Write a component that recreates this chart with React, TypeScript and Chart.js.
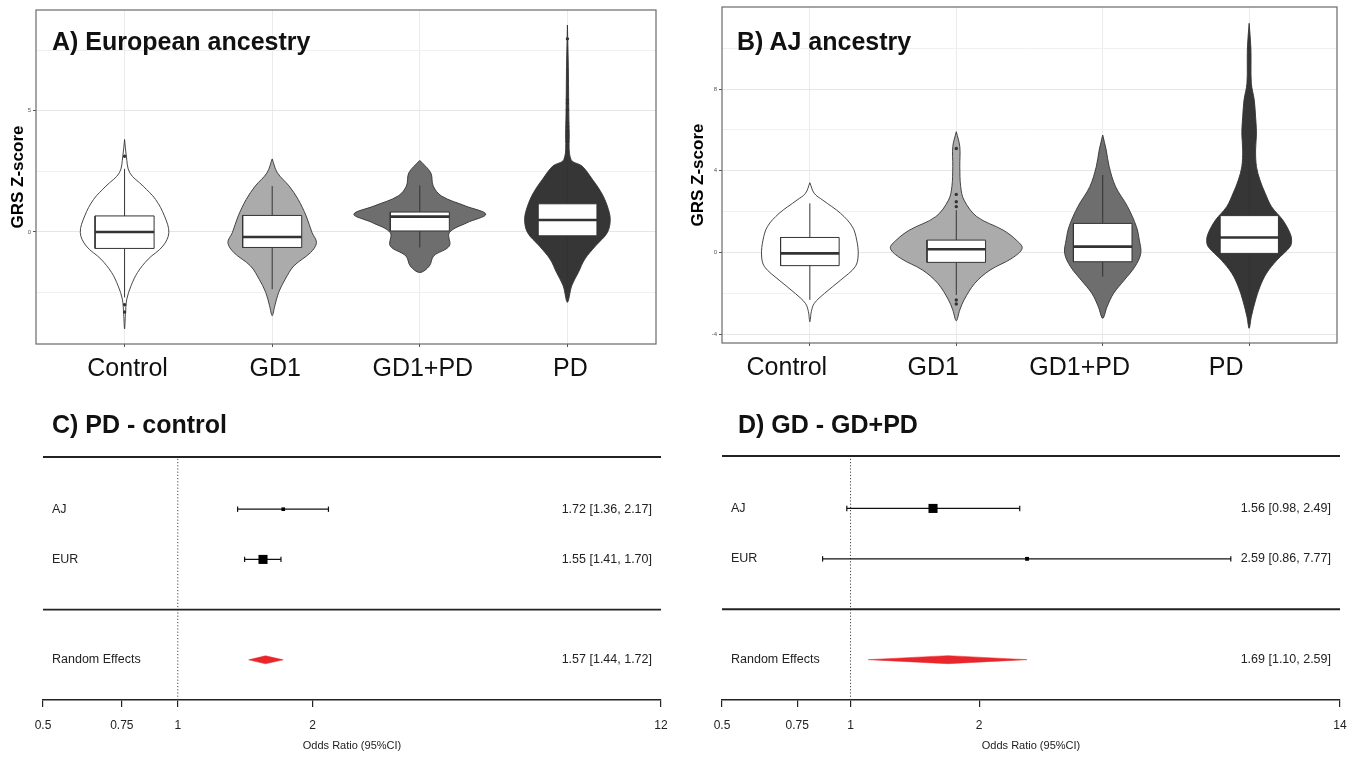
import React, { useEffect, useRef } from 'react';
import { Chart, registerables } from 'chart.js';

Chart.register(...registerables);

const FONT = '"Liberation Sans", Arial, Helvetica, sans-serif';
Chart.defaults.font.family = FONT;

// ---------------- Violin panels (A, B) ----------------
const CATEGORIES = ['Control', 'GD1', 'GD1+PD', 'PD'];
const GROUP_FILLS = ['#ffffff', '#ababab', '#6e6e6e', '#363636'];
const OUTLINE = '#333333';

// A) European ancestry – violin outline: GRS value and half-width (category units)
const EUR_CONTROL_Y = [3.81, 3.12, 2.44, 1.89, 1.34, 0.66, -0.03, -0.58, -1.12, -1.67, -2.22, -2.77, -3.4, -4.0];
const EUR_CONTROL_W = [0, 0.012, 0.035, 0.126, 0.21, 0.27, 0.3, 0.26, 0.16, 0.088, 0.044, 0.015, 0.006, 0];
const EUR_GD1_Y = [3.01, 2.44, 1.89, 1.34, 0.66, -0.03, -0.44, -0.85, -1.4, -1.95, -2.49, -3.04, -3.45];
const EUR_GD1_W = [0, 0.035, 0.115, 0.176, 0.23, 0.27, 0.3, 0.26, 0.147, 0.088, 0.044, 0.018, 0];
const EUR_GDPD_Y = [2.95, 2.44, 1.89, 1.48, 1.07, 0.73, 0.38, -0.03, -0.58, -0.99, -1.4, -1.67];
const EUR_GDPD_W = [0, 0.074, 0.091, 0.147, 0.31, 0.447, 0.32, 0.2, 0.2, 0.094, 0.065, 0];
const EUR_PD_Y = [8.53, 6.82, 4.08, 2.99, 2.71, 2.16, 1.62, 1.07, 0.52, -0.03, -0.58, -1.12, -1.67, -2.22, -2.9];
const EUR_PD_W = [0, 0.006, 0.012, 0.024, 0.1, 0.17, 0.23, 0.27, 0.29, 0.27, 0.19, 0.118, 0.074, 0.029, 0];

const EUR_Q1 = [-0.68, -0.64, 0.04, -0.16];
const EUR_MEDIAN = [0.0, -0.21, 0.63, 0.49];
const EUR_Q3 = [0.66, 0.68, 0.82, 1.16];
const EUR_WHISKER_LO = [-2.7, -2.36, -0.64, -2.36];
const EUR_WHISKER_HI = [2.6, 1.89, 1.92, 3.1];
const EUR_OUTLIERS = [[3.12, -3.0, -3.3], [], [], [7.96, 5.45, 5.32, 5.04, 4.49, 4.36, 4.15, 3.95, 3.74, 3.53, 3.33]];
const EUR_Y_TICKS = [-2.5, 0, 2.5, 5, 7.5];
const EUR_Y_LABELLED = [0, 5];

// B) AJ ancestry
const AJ_CONTROL_Y = [3.41, 2.89, 2.56, 1.91, 1.26, 0.6, -0.13, -0.7, -1.36, -2.01, -2.5, -2.9, -3.4];
const AJ_CONTROL_W = [0, 0.03, 0.088, 0.21, 0.29, 0.32, 0.33, 0.31, 0.21, 0.1, 0.03, 0.01, 0];
const AJ_GD1_Y = [5.91, 5.18, 4.2, 3.22, 2.56, 1.75, 1.09, 0.6, 0.2, -0.29, -0.87, -1.52, -2.33, -2.82, -3.35];
const AJ_GD1_W = [0, 0.024, 0.024, 0.03, 0.053, 0.14, 0.32, 0.41, 0.45, 0.38, 0.23, 0.126, 0.053, 0.024, 0];
const AJ_GDPD_Y = [5.75, 5.01, 4.2, 3.22, 2.24, 1.26, 0.6, -0.05, -0.7, -1.36, -2.01, -2.66, -3.23];
const AJ_GDPD_W = [0, 0.024, 0.044, 0.088, 0.17, 0.23, 0.25, 0.26, 0.22, 0.147, 0.074, 0.03, 0];
const AJ_PD_Y = [11.22, 9.99, 8.28, 7.46, 6.64, 5.83, 5.01, 4.2, 3.54, 2.89, 2.24, 1.58, 0.93, 0.6, 0.28, -0.38, -1.03, -1.68, -2.33, -3.15, -3.72];
const AJ_PD_W = [0, 0.012, 0.015, 0.035, 0.044, 0.05, 0.044, 0.05, 0.074, 0.11, 0.153, 0.23, 0.28, 0.29, 0.28, 0.19, 0.118, 0.074, 0.044, 0.015, 0];

const AJ_Q1 = [-0.65, -0.49, -0.46, -0.05];
const AJ_MEDIAN = [-0.05, 0.15, 0.28, 0.73];
const AJ_Q3 = [0.73, 0.6, 1.42, 1.8];
const AJ_WHISKER_LO = [-2.33, -2.09, -1.19, -2.8];
const AJ_WHISKER_HI = [2.4, 2.07, 3.79, 4.5];
const AJ_OUTLIERS = [[], [5.09, 2.84, 2.48, 2.24, -2.33, -2.53], [], [9.99]];
const AJ_Y_TICKS = [-4, -2, 0, 2, 4, 6, 8, 10];
const AJ_Y_LABELLED = [-4, 0, 4, 8];

// ---------------- Forest panels (C, D) ----------------
const STUDIES = ['AJ', 'EUR'];
const POOLED_LABEL = 'Random Effects';

// C) PD - control
const PDC_OR = [1.72, 1.55];
const PDC_LO = [1.36, 1.41];
const PDC_HI = [2.17, 1.7];
const PDC_POOLED = [1.57, 1.44, 1.72]; // estimate, lower, upper
const PDC_X_TICKS = [0.5, 0.75, 1, 2, 12];

// D) GD - GD+PD
const GDP_OR = [1.56, 2.59];
const GDP_LO = [0.98, 0.86];
const GDP_HI = [2.49, 7.77];
const GDP_POOLED = [1.69, 1.1, 2.59];
const GDP_X_TICKS = [0.5, 0.75, 1, 2, 14];

// ---------------- helpers ----------------
const BOX_HALF = 0.2;
const framePlugin = {
  id: 'frame',
  afterDraw(chart: any) {
    const { ctx, chartArea: a } = chart;
    ctx.save();
    ctx.strokeStyle = '#6a6a6a';
    ctx.lineWidth = 1.2;
    ctx.strokeRect(a.left, a.top, a.right - a.left, a.bottom - a.top);
    ctx.restore();
  },
};

function violinPolygon(center: number, ys: number[], ws: number[]) {
  const left = ys.map((y, i) => ({ x: center - ws[i], y }));
  const right = ys.map((y, i) => ({ x: center + ws[i], y })).reverse();
  return [...left, ...right.slice(1)];
}

function violinConfig(p: any) {
  const datasets: any[] = [];
  p.shapesY.forEach((ys: number[], i: number) => {
    const c = i + 1;
    datasets.push({
      data: violinPolygon(c, ys, p.shapesW[i]),
      fill: 'shape', backgroundColor: GROUP_FILLS[i], borderColor: OUTLINE,
      borderWidth: 0.9, pointRadius: 0, tension: 0.35, order: 5,
    });
    datasets.push({
      data: [{ x: c, y: p.wLo[i] }, { x: c, y: p.wHi[i] }],
      fill: false, borderColor: OUTLINE, borderWidth: 1, pointRadius: 0, order: 4,
    });
    datasets.push({
      data: [
        { x: c - BOX_HALF, y: p.q1[i] }, { x: c + BOX_HALF, y: p.q1[i] },
        { x: c + BOX_HALF, y: p.q3[i] }, { x: c - BOX_HALF, y: p.q3[i] },
        { x: c - BOX_HALF, y: p.q1[i] },
      ],
      fill: 'shape', backgroundColor: '#ffffff', borderColor: OUTLINE,
      borderWidth: 1, pointRadius: 0, tension: 0, order: 3,
    });
    datasets.push({
      data: [{ x: c - BOX_HALF, y: p.med[i] }, { x: c + BOX_HALF, y: p.med[i] }],
      fill: false, borderColor: OUTLINE, borderWidth: 2.6, pointRadius: 0, order: 2,
    });
  });
  const outliers: any[] = [];
  p.outliers.forEach((arr: number[], i: number) => arr.forEach((v) => outliers.push({ x: i + 1, y: v })));
  datasets.push({
    data: outliers, showLine: false, pointRadius: 1.7, pointBackgroundColor: OUTLINE,
    pointBorderWidth: 0, order: 1,
  });

  return {
    type: 'line',
    data: { datasets },
    plugins: [framePlugin],
    options: {
      responsive: false, animation: false, devicePixelRatio: 1, events: [],
      layout: { padding: p.padding },
      plugins: { legend: { display: false }, tooltip: { enabled: false } },
      scales: {
        x: {
          type: 'linear', min: 0.4, max: 4.6,
          afterBuildTicks: (s: any) => { s.ticks = CATEGORIES.map((_, i) => ({ value: i + 1 })); },
          afterFit: (s: any) => { s.height = p.xAxisHeight; },
          ticks: {
            callback: (v: number) => CATEGORIES[Math.round(v) - 1],
            font: { size: 25 }, color: '#111', padding: 7, labelOffset: p.labelOffset,
            autoSkip: false, maxRotation: 0,
          },
          grid: { color: '#ebebeb', tickColor: '#555', tickLength: 3 },
          border: { display: false },
        },
        y: {
          type: 'linear', min: p.yMin, max: p.yMax,
          afterBuildTicks: (s: any) => { s.ticks = p.yTicks.map((v: number) => ({ value: v })); },
          afterFit: (s: any) => { s.width = p.yAxisWidth; },
          ticks: {
            callback: (v: number) => (p.yLabelled.includes(v) ? String(v) : ''),
            font: { size: 6 }, color: '#555', padding: 2, autoSkip: false,
          },
          grid: {
            color: (ctx: any) => (p.yLabelled.includes(ctx.tick?.value) ? '#e6e6e6' : '#f0f0f0'),
            tickColor: (ctx: any) => (p.yLabelled.includes(ctx.tick?.value) ? '#555' : 'rgba(0,0,0,0)'),
            tickLength: 3,
          },
          border: { display: false },
          title: {
            display: true, text: 'GRS Z-score', color: '#000',
            font: { size: 17, weight: 'bold' }, padding: { top: 8, bottom: 0 },
          },
        },
      },
    },
  };
}

const forestTextPlugin = {
  id: 'forestText',
  afterDatasetsDraw(chart: any, _args: any, opts: any) {
    const { ctx, chartArea, scales } = chart;
    ctx.save();
    ctx.font = `12.5px ${FONT}`;
    ctx.fillStyle = '#222';
    ctx.textBaseline = 'middle';
    (opts.rows || []).forEach((r: any) => {
      const y = scales.y.getPixelForValue(r.y);
      ctx.textAlign = 'left';
      ctx.fillText(r.label, chartArea.left + 9, y);
      ctx.textAlign = 'right';
      ctx.fillText(r.text, chartArea.right - 9, y);
    });
    ctx.restore();
  },
};

const ROW_STUDY = [3, 2];
const ROW_POOLED = 0;
const ROW_RULE = 1;
const Y_MIN = -0.8;
const Y_MAX = 4.04;
const fmt = (e: number, l: number, h: number) => `${e.toFixed(2)} [${l.toFixed(2)}, ${h.toFixed(2)}]`;

function forestConfig(p: any) {
  const xMin = p.ticks[0];
  const xMax = p.ticks[p.ticks.length - 1];
  const widths = p.lo.map((l: number, i: number) => Math.log(p.hi[i] / l));
  const minW = Math.min(...widths);
  const datasets: any[] = [
    { data: [{ x: xMin, y: Y_MAX }, { x: xMax, y: Y_MAX }], borderColor: '#222', borderWidth: 1.8, pointRadius: 0, clip: false, order: 5 },
    { data: [{ x: xMin, y: ROW_RULE }, { x: xMax, y: ROW_RULE }], borderColor: '#222', borderWidth: 1.8, pointRadius: 0, clip: false, order: 5 },
    { data: [{ x: 1, y: Y_MIN }, { x: 1, y: Y_MAX }], borderColor: '#444', borderWidth: 1, borderDash: [1.2, 2], pointRadius: 0, clip: false, order: 5 },
  ];
  p.or.forEach((_: number, i: number) => {
    datasets.push({
      data: [{ x: p.lo[i], y: ROW_STUDY[i] }, { x: p.hi[i], y: ROW_STUDY[i] }],
      borderColor: '#111', borderWidth: 1.2, pointStyle: 'line', pointRotation: 90,
      pointRadius: 2.7, pointBorderColor: '#111', pointBorderWidth: 1.2, order: 3,
    });
  });
  datasets.push({
    data: p.or.map((v: number, i: number) => ({ x: v, y: ROW_STUDY[i] })),
    showLine: false, pointStyle: 'rect', pointBackgroundColor: '#000', pointBorderWidth: 0,
    pointRadius: widths.map((w: number) => 6.4 * (minW / w)), order: 2,
  });
  const [est, lo, hi] = p.pooled;
  datasets.push({
    data: [
      { x: lo, y: ROW_POOLED }, { x: est, y: ROW_POOLED + 0.08 }, { x: hi, y: ROW_POOLED },
      { x: est, y: ROW_POOLED - 0.08 }, { x: lo, y: ROW_POOLED },
    ],
    fill: 'shape', backgroundColor: '#e8262b', borderColor: '#e8262b', borderWidth: 0.5,
    pointRadius: 0, tension: 0, order: 1,
  });
  const rows = [
    ...STUDIES.map((s, i) => ({ label: s, y: ROW_STUDY[i], text: fmt(p.or[i], p.lo[i], p.hi[i]) })),
    { label: POOLED_LABEL, y: ROW_POOLED, text: fmt(est, lo, hi) },
  ];
  return {
    type: 'line',
    data: { datasets },
    plugins: [forestTextPlugin],
    options: {
      responsive: false, animation: false, devicePixelRatio: 1, events: [],
      layout: { padding: p.padding },
      plugins: { legend: { display: false }, tooltip: { enabled: false }, forestText: { rows } },
      scales: {
        x: {
          type: 'logarithmic', min: xMin, max: xMax,
          afterBuildTicks: (s: any) => { s.ticks = p.ticks.map((v: number) => ({ value: v })); },
          afterFit: (s: any) => { s.height = 60; },
          ticks: { callback: (v: number) => String(v), font: { size: 12 }, color: '#222', padding: 11, autoSkip: false, maxRotation: 0 },
          grid: { drawOnChartArea: false, tickLength: 7, tickColor: '#222', lineWidth: 1.2 },
          border: { display: true, color: '#222', width: 1.5 },
          title: { display: true, text: 'Odds Ratio (95%CI)', color: '#222', font: { size: 11 }, padding: { top: 0, bottom: 7 } },
        },
        y: { type: 'linear', display: false, min: Y_MIN, max: Y_MAX },
      },
    },
  };
}

function ChartCanvas({ config, left, top, width, height }: any) {
  const ref = useRef<HTMLCanvasElement>(null);
  useEffect(() => {
    const chart = new Chart(ref.current as HTMLCanvasElement, config);
    return () => chart.destroy();
  }, [config]);
  return (
    <canvas ref={ref} width={width} height={height}
      style={{ position: 'absolute', left, top, width, height }} />
  );
}

const titleStyle: any = {
  position: 'absolute', fontFamily: FONT, fontWeight: 'bold', fontSize: 25,
  lineHeight: '25px', color: '#111', whiteSpace: 'nowrap',
};

const configA = violinConfig({
  shapesY: [EUR_CONTROL_Y, EUR_GD1_Y, EUR_GDPD_Y, EUR_PD_Y],
  shapesW: [EUR_CONTROL_W, EUR_GD1_W, EUR_GDPD_W, EUR_PD_W],
  q1: EUR_Q1, med: EUR_MEDIAN, q3: EUR_Q3, wLo: EUR_WHISKER_LO, wHi: EUR_WHISKER_HI,
  outliers: EUR_OUTLIERS, yTicks: EUR_Y_TICKS, yLabelled: EUR_Y_LABELLED,
  yMin: -4.62, yMax: 9.15, padding: { left: 0, right: 24, top: 10, bottom: 0 },
  yAxisWidth: 36, xAxisHeight: 46, labelOffset: 3,
});
const configB = violinConfig({
  shapesY: [AJ_CONTROL_Y, AJ_GD1_Y, AJ_GDPD_Y, AJ_PD_Y],
  shapesW: [AJ_CONTROL_W, AJ_GD1_W, AJ_GDPD_W, AJ_PD_W],
  q1: AJ_Q1, med: AJ_MEDIAN, q3: AJ_Q3, wLo: AJ_WHISKER_LO, wHi: AJ_WHISKER_HI,
  outliers: AJ_OUTLIERS, yTicks: AJ_Y_TICKS, yLabelled: AJ_Y_LABELLED,
  yMin: -4.44, yMax: 12.02, padding: { left: 0, right: 22, top: 7, bottom: 0 },
  yAxisWidth: 42, xAxisHeight: 47, labelOffset: -23,
});
const configC = forestConfig({
  or: PDC_OR, lo: PDC_LO, hi: PDC_HI, pooled: PDC_POOLED, ticks: PDC_X_TICKS,
  padding: { left: 43, right: 19, top: 57, bottom: 0 },
});
const configD = forestConfig({
  or: GDP_OR, lo: GDP_LO, hi: GDP_HI, pooled: GDP_POOLED, ticks: GDP_X_TICKS,
  padding: { left: 42, right: 19, top: 56, bottom: 0 },
});

export default function App() {
  return (
    <div style={{ position: 'absolute', left: 0, top: 0, width: 1359, height: 760, background: '#fff', overflow: 'hidden' }}>
      <ChartCanvas config={configA} left={0} top={0} width={680} height={390} />
      <ChartCanvas config={configB} left={680} top={0} width={679} height={390} />
      <ChartCanvas config={configC} left={0} top={400} width={680} height={360} />
      <ChartCanvas config={configD} left={680} top={400} width={679} height={360} />
      <div style={{ ...titleStyle, left: 52, top: 29 }}>A) European ancestry</div>
      <div style={{ ...titleStyle, left: 737, top: 29 }}>B) AJ ancestry</div>
      <div style={{ ...titleStyle, left: 52, top: 412 }}>C) PD - control</div>
      <div style={{ ...titleStyle, left: 738, top: 412 }}>D) GD - GD+PD</div>
    </div>
  );
}
